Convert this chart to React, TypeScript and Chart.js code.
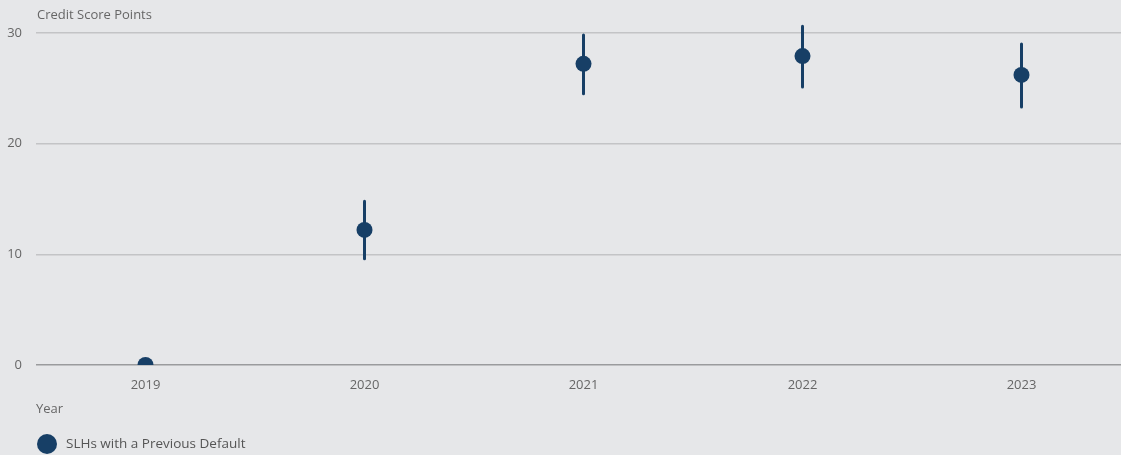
import React, { useEffect, useRef } from "react";
import { Chart, registerables } from "chart.js";

Chart.register(...registerables);

const years = ["2019", "2020", "2021", "2022", "2023"];
const estimates = [0, 12.2, 27.2, 27.9, 26.2];
const lowerBounds = [null, 9.6, 24.5, 25.1, 23.3];
const upperBounds = [null, 14.8, 29.8, 30.6, 29.0];
const yTicks = [0, 10, 20, 30];
const seriesLabel = "SLHs with a Previous Default";
const yTitle = "Credit Score Points";
const xTitle = "Year";

const NAVY = "#173f66";
const FONT = "'Open Sans', sans-serif";

export default function App() {
  const ref = useRef<HTMLCanvasElement | null>(null);

  useEffect(() => {
    document.body.style.margin = "0";
    document.body.style.background = "#e6e7e9";
    const canvas = ref.current!;

    const errorBars = {
      id: "errorBars",
      beforeDatasetsDraw(chart: any) {
        const { ctx, scales } = chart;
        const xs = scales.x;
        const ys = scales.y;
        ctx.save();
        ctx.strokeStyle = NAVY;
        ctx.lineWidth = 3;
        ctx.lineCap = "round";
        years.forEach((_, i) => {
          const lo = lowerBounds[i];
          const hi = upperBounds[i];
          if (lo == null || hi == null) return;
          const x = xs.getPixelForValue(i);
          ctx.beginPath();
          ctx.moveTo(x, ys.getPixelForValue(lo));
          ctx.lineTo(x, ys.getPixelForValue(hi));
          ctx.stroke();
        });
        ctx.restore();
      },
    };

    const labels = {
      id: "labelsPlugin",
      afterDraw(chart: any) {
        const { ctx } = chart;
        ctx.save();
        ctx.font = `13px ${FONT}`;
        ctx.fillStyle = "#666666";
        ctx.textBaseline = "middle";
        ctx.textAlign = "left";
        ctx.fillText(yTitle, 37, 15);
        ctx.fillText(xTitle, 36, 409);
        // legend
        ctx.beginPath();
        ctx.fillStyle = NAVY;
        ctx.arc(47, 444, 10, 0, Math.PI * 2);
        ctx.fill();
        ctx.fillStyle = "#555555";
        ctx.font = `13.5px ${FONT}`;
        ctx.fillText(seriesLabel, 66, 444);
        ctx.restore();
      },
    };

    const chart = new Chart(canvas, {
      type: "line",
      data: {
        labels: years,
        datasets: [
          {
            label: seriesLabel,
            data: estimates,
            showLine: false,
            pointRadius: 8,
            pointHoverRadius: 8,
            pointBackgroundColor: NAVY,
            pointBorderColor: NAVY,
            pointBorderWidth: 0,
          },
        ],
      },
      options: {
        responsive: false,
        animation: false,
        events: [],
        layout: { padding: { top: 4, left: 0, right: 0, bottom: 0 } },
        plugins: {
          legend: { display: false },
          tooltip: { enabled: false },
          title: { display: false },
        },
        scales: {
          x: {
            type: "category",
            offset: true,
            grid: { display: false, drawTicks: false },
            border: { display: false },
            ticks: {
              color: "#666666",
              font: { family: FONT, size: 13 },
              padding: 12,
              maxRotation: 0,
            },
            afterFit(scale: any) {
              scale.height = 90;
            },
          },
          y: {
            min: 0,
            max: 31.0,
            afterBuildTicks(scale: any) {
              scale.ticks = yTicks.map((v) => ({ value: v }));
            },
            grid: {
              drawTicks: false,
              lineWidth: 1.5,
              color: (c: any) => (c.tick && c.tick.value === 0 ? "#9a9b9d" : "#c3c4c6"),
            },
            border: { display: false },
            ticks: {
              color: "#666666",
              font: { family: FONT, size: 13 },
              padding: 14,
            },
            afterFit(scale: any) {
              scale.width = 36;
            },
          },
        },
      },
      plugins: [errorBars, labels],
    });
    return () => chart.destroy();
  }, []);

  return (
    <div style={{ position: "fixed", left: 0, top: 0, width: 1121, height: 455, overflow: "hidden", background: "#e6e7e9" }}>
      <canvas ref={ref} width={1139} height={455} style={{ display: "block" }} />
    </div>
  );
}
